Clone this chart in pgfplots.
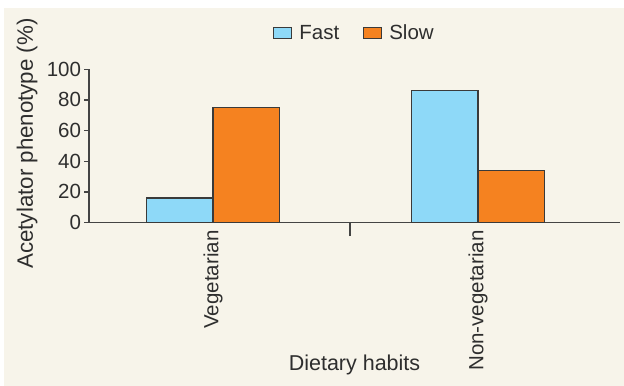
\documentclass[border=0pt]{standalone}
\usepackage{fontspec}
\setmainfont{Liberation Sans}
\usepackage{pgfplots}
\pgfplotsset{compat=1.18}
\definecolor{cream}{HTML}{F7F4EA}
\definecolor{fastblue}{HTML}{8ED9F8}
\definecolor{sloworange}{HTML}{F58220}
\definecolor{edgegray}{HTML}{3A3A3A}
\definecolor{axisgray}{HTML}{444444}
\definecolor{txt}{HTML}{2E2E2E}
\pgfplotstableread{
x fast slow
0 16 75
1 86 34
}\datatable
\begin{document}
\begin{tikzpicture}
\fill[white] (-89bp,-163.5bp) rectangle (535bp,222.5bp);
\fill[cream] (-85bp,-163.5bp) rectangle (535bp,214.5bp);
\path[use as bounding box] (-89bp,-163.5bp) rectangle (535bp,222.5bp);
\begin{axis}[
  at={(0,0)}, anchor=south west,
  scale only axis,
  width=531bp, height=153.25bp,
  ybar,
  xmin=-0.468, xmax=1.536,
  ymin=0, ymax=100,
  axis lines*=left,
  axis line style={draw=axisgray, line width=1.3bp},
  xtick={0,1},
  xticklabels={Vegetarian,Non-vegetarian},
  minor xtick={0.517},
  major x tick style={draw=none},
  minor tick length=13.5bp,
  major tick length=4.5bp,
  tick align=outside,
  tick style={draw=axisgray, line width=1.3bp},
  ytick={0,20,40,60,80,100},
  /pgf/number format/assume math mode=true,
  tick label style={font=\fontsize{20.5bp}{24bp}\selectfont, text=txt},
  xticklabel style={rotate=90, anchor=east},
  xlabel={Dietary habits},
  ylabel={Acetylator phenotype (\%)},
  label style={text=txt},
  xlabel style={font=\fontsize{21.5bp}{25bp}\selectfont, at={(axis description cs:0.5,-0.9625)}, anchor=base},
  ylabel style={font=\fontsize{22.3bp}{26bp}\selectfont, at={(axis description cs:-0.1055,0.5155)}, anchor=base, rotate=0},
  legend style={at={(axis description cs:0.5,1.235)}, anchor=center, draw=none, fill=none,
    legend columns=2, font=\fontsize{20.5bp}{24bp}\selectfont, text=txt,
    /tikz/every even column/.append style={column sep=22bp}},
  legend image code/.code={\draw[#1, line width=1.2bp] (0bp,-5.5bp) rectangle (17.5bp,5.5bp);
    \path[draw=none, fill=none] (0bp,0bp) -- (23.5bp,0bp);},
  clip=false,
]
\addplot[fill=fastblue, draw=edgegray, line width=1.2bp, bar width=0.25, bar shift=-0.125] table[x=x, y=fast] {\datatable};
\addlegendentry{Fast}
\addplot[fill=sloworange, draw=edgegray, line width=1.2bp, bar width=0.25, bar shift=0.125] table[x=x, y=slow] {\datatable};
\addlegendentry{Slow}
\end{axis}
\end{tikzpicture}
\end{document}
